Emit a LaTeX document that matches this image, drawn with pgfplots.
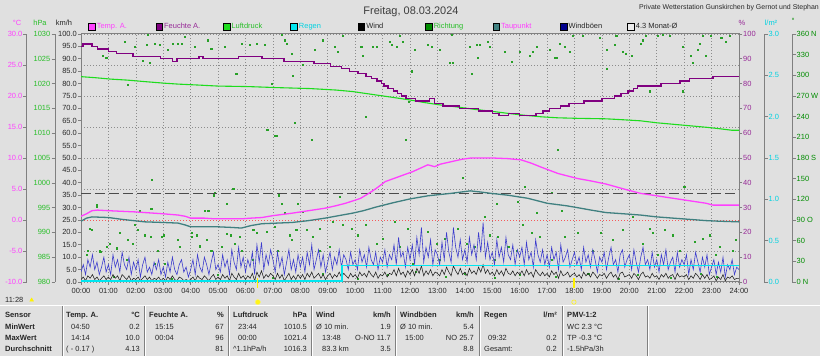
\documentclass[border=0pt]{standalone}
\usepackage{pgfplots}
\usepackage{pgfplotstable}
\pgfplotsset{compat=1.18}
\usepackage{fontspec}
\setmainfont{Liberation Sans}
\definecolor{bg}{RGB}{224,224,224}
\definecolor{tempc}{RGB}{255,64,255}
\definecolor{humc}{RGB}{128,0,128}
\definecolor{humtxt}{RGB}{150,40,150}
\definecolor{presc}{RGB}{30,220,30}
\definecolor{prestxt}{RGB}{40,190,40}
\definecolor{rainc}{RGB}{0,230,240}
\definecolor{raintxt}{RGB}{0,210,225}
\definecolor{windc}{RGB}{30,30,30}
\definecolor{dirc}{RGB}{40,160,40}
\definecolor{dirsq}{RGB}{0,140,0}
\definecolor{dewc}{RGB}{64,128,128}
\definecolor{gustc}{RGB}{60,60,205}
\definecolor{gustsq}{RGB}{0,0,140}
\definecolor{gridc}{RGB}{140,140,140}
\definecolor{axc}{RGB}{128,128,128}
\definecolor{avgc}{RGB}{75,75,75}
\definecolor{frostc}{RGB}{245,90,90}
\definecolor{txtc}{RGB}{40,40,40}
\newcommand\tf{\fontsize{7.5}{8.5}\selectfont}
\newcommand\hf{\fontsize{7.6}{8.5}\selectfont\bfseries}
\pgfplotsset{
  base/.style={scale only axis, width=658bp, height=248bp, xmin=0, xmax=24,
    at={(81bp,74bp)}, anchor=south west},
  narrow/.style={scale only axis, width=0.5bp, height=248bp, xmin=0, xmax=1,
    anchor=south west, axis x line=none, tick align=outside, major tick length=3.5bp,
    axis line style={axc,line width=1bp}, tick style={axc,line width=0.6bp},
    yticklabel style={font=\tf, inner sep=1bp}},
}
% wind gusts, 5-minute values from 00:00 to 24:00 (km/h)
\pgfplotstableread[header=false,row sep=\\]{
4\\7\\3\\9\\6\\11\\5\\8\\3\\6\\10\\4\\
7\\3\\11\\6\\9\\4\\12\\7\\5\\10\\3\\8\\
5\\9\\2\\7\\10\\4\\6\\3\\8\\5\\9\\3\\
6\\2\\8\\4\\10\\5\\3\\7\\9\\4\\6\\2\\
5\\9\\3\\11\\6\\4\\10\\7\\3\\8\\12\\5\\
7\\4\\11\\6\\9\\3\\13\\8\\5\\14\\6\\10\\
4\\9\\6\\12\\3\\15\\8\\16\\5\\11\\7\\13\\
9\\4\\12\\6\\10\\3\\8\\13\\5\\9\\4\\11\\
6\\10\\4\\12\\7\\15\\5\\9\\13\\6\\11\\4\\
8\\12\\5\\10\\7\\13\\6\\11\\9\\5\\12\\7\\
9\\5\\13\\8\\11\\6\\14\\9\\7\\12\\5\\10\\
8\\13\\6\\11\\9\\15\\7\\18\\10\\12\\6\\14\\
9\\15\\7\\18\\11\\22\\8\\14\\10\\17\\7\\13\\
11\\7\\16\\9\\20\\12\\8\\22\\14\\10\\17\\9\\
13\\8\\18\\11\\15\\9\\20\\12\\24\\10\\16\\9\\
12\\7\\17\\10\\14\\8\\18\\11\\9\\15\\7\\13\\
10\\14\\7\\16\\9\\12\\6\\17\\11\\8\\13\\7\\
11\\6\\14\\9\\12\\5\\15\\8\\10\\13\\6\\9\\
12\\7\\10\\5\\14\\8\\11\\6\\13\\9\\4\\10\\
8\\12\\5\\10\\14\\7\\9\\4\\11\\13\\6\\9\\
11\\5\\13\\8\\4\\10\\14\\7\\9\\5\\12\\6\\
9\\4\\11\\7\\13\\5\\8\\10\\4\\12\\6\\9\\
7\\11\\3\\9\\5\\12\\8\\4\\10\\6\\11\\3\\
6\\9\\3\\8\\4\\10\\2\\7\\5\\9\\3\\6\\
5\\
}\gusts
% mean wind, 5-minute values (km/h)
\pgfplotstableread[header=false,row sep=\\]{
1\\2\\0.5\\2.5\\1.5\\3\\1\\2\\0.5\\1.5\\2.5\\1\\
2\\1\\3\\1.5\\2.5\\0.5\\3\\2\\1\\2.5\\0.5\\1.5\\
1\\2\\0.5\\1.5\\2.5\\1\\2\\0.5\\1.5\\1\\2\\0.5\\
1.5\\0.5\\2\\1\\2.5\\1\\0.5\\2\\1.5\\0.5\\1\\0.5\\
1\\2\\0.5\\2.5\\1.5\\1\\2.5\\1.5\\0.5\\2\\3\\1\\
2\\1\\3\\1.5\\2.5\\0.5\\3.5\\2\\1\\3.5\\1.5\\2.5\\
1\\2.5\\1.5\\3.5\\0.5\\4\\2\\4.5\\1.5\\3\\2\\3.5\\
2.5\\1\\3.5\\1.5\\3\\0.5\\2\\3.5\\1\\2.5\\1\\3\\
1.5\\3\\1\\3.5\\2\\4\\1.5\\2.5\\3.5\\1.5\\3\\1\\
2.5\\3.5\\1.5\\3\\2\\4\\2\\3.5\\2.5\\1.5\\3.5\\2\\
3\\1.5\\4\\2.5\\3.5\\2\\4.5\\3\\2\\4\\1.5\\3\\
2.5\\4\\2\\3.5\\3\\5\\2.5\\5.5\\3\\4\\2\\4.5\\
3\\5\\2.5\\5.5\\3.5\\6.5\\2.5\\4.5\\3\\5\\2.5\\4\\
3.5\\2.5\\5\\3\\6\\4\\2.5\\6.5\\4.5\\3\\5.5\\3\\
4\\2.5\\5.5\\3.5\\4.5\\3\\6\\4\\7\\3.5\\5\\3\\
4\\2.5\\5\\3\\4.5\\2.5\\5.5\\3.5\\3\\4.5\\2.5\\4\\
3\\4.5\\2.5\\5\\3\\4\\2\\5\\3.5\\2.5\\4\\2.5\\
3.5\\2\\4.5\\3\\4\\1.5\\4.5\\2.5\\3\\4\\2\\3\\
3.5\\2\\3\\1.5\\4\\2.5\\3.5\\2\\4\\3\\1.5\\3\\
2.5\\3.5\\1.5\\3\\4\\2\\3\\1\\3.5\\4\\2\\2.5\\
3\\1.5\\3.5\\2.5\\1\\3\\4\\2\\2.5\\1.5\\3.5\\2\\
2.5\\1\\3\\2\\3.5\\1.5\\2.5\\3\\1\\3.5\\2\\2.5\\
2\\3\\1\\2.5\\1.5\\3.5\\2.5\\1\\3\\1.5\\3\\1\\
1.5\\2.5\\0.5\\2\\1\\3\\0.5\\2\\1.5\\2.5\\1\\1.5\\
1.5\\
}\wind
\begin{document}
\begin{tikzpicture}
\path[use as bounding box] (0,0) rectangle (820bp,356bp);
\fill[bg] (0,0) rectangle (820bp,356bp);

% grid
\begin{axis}[base, ymin=0, ymax=100, xtick={0,1,...,24}, ytick={0,12.5,...,100},
  xticklabels={}, yticklabels={}, grid=major,
  major grid style={gridc, line width=0.6bp, dash pattern=on 1bp off 2bp},
  axis line style={draw=none}, major tick length=0pt]
\addplot[draw=none] coordinates {(0,0)};
\end{axis}

% wind direction (degrees)
\begin{axis}[base, ymin=0, ymax=360, hide axis]
\addplot[only marks, mark=square*, mark size=0.55bp, dirc] coordinates {
(0.07,344)(0.8,329)(0.92,325)(1.59,349)(1.71,286)(1.96,342)(2.44,359)(2.38,344)(2.69,346)(2.87,344)(2.5,318)(2.26,321)(3.17,337)(3.35,346)(3.54,346)(3.78,356)(3.66,346)(4.15,342)(4.63,351)(4.75,339)(5.24,342)(5.85,346)(5.66,303)
(5.54,136)(4.87,129)(2.56,107)(0.56,112)(0.38,76)(1.41,71)(1.71,61)(1.9,56)(2.08,76)(2.32,68)(1.05,56)(0.68,46)(0.26,46)(2.93,66)(2.81,46)(3.05,27)(3.54,61)(4.03,66)(4.21,68)(4.51,104)(4.57,61)(4.75,46)(5.12,51)(5.3,70)(5.6,56)(5.85,46)(2.69,27)
(0.33,78)(0.58,110)(0.2,40)(0.7,44)(0.95,51)(1.3,49)(1.67,32)(1.97,83)(2.15,104)(2.58,148)(2.55,66)(3.0,68)(3.6,51)(4.04,71)(4.34,52)(4.64,104)(4.83,126)(5.3,114)(5.55,136)(5.45,68)(5.8,66)(6.28,76)(6.78,221)(7.08,213)(7.2,126)(7.44,100)(7.6,68)(7.8,231)(7.9,114)
(6.15,344)(6.4,346)(6.7,344)(6.94,288)(7.31,359)(7.43,351)(7.49,346)(7.67,332)(7.73,300)(8.1,315)(8.52,337)(8.83,351)(9.25,342)(9.56,357)(9.37,334)(10.22,342)(10.28,329)(10.65,342)(10.77,342)(11.26,349)(11.32,344)(11.5,342)(11.62,357)(11.74,349)(11.95,262)(11.83,206)(10.4,240)(7.13,213)(6.82,221)(7.79,231)(8.4,206)
(6.76,73)(6.4,71)(7.06,80)(7.31,114)(7.67,61)(7.85,76)(8.22,76)(8.1,102)(8.46,66)(8.7,78)(9.19,88)(9.43,124)(9.56,83)(9.86,78)(10.1,68)(10.4,83)(10.77,56)(11.0,63)(11.44,88)(11.62,51)(11.92,78)(6.27,32)(7.19,46)(9.07,51)(8.7,46)
(12.17,337)(12.05,306)(12.66,344)(12.78,342)(13.08,337)(13.51,359)(13.45,318)(13.57,318)(14.18,342)(14.42,344)(14.54,344)(14.85,349)(14.91,342)(14.48,325)(14.24,303)(15.45,334)(15.7,320)(16.0,334)(16.36,329)(16.61,342)(16.49,334)(17.1,337)(17.28,325)(17.34,325)(17.46,346)(17.64,342)(17.94,357)(17.82,334)(17.4,192)(15.94,117)(15.15,114)(16.18,138)(16.61,100)(17.16,129)(17.52,104)(13.93,151)(14.72,95)
(12.66,73)(12.96,56)(13.27,63)(13.75,78)(14.06,56)(14.36,51)(14.91,68)(15.21,66)(15.58,51)(15.88,46)(16.12,83)(16.43,71)(16.73,66)(17.16,32)(17.64,66)(12.11,27)(13.08,32)(15.09,32)
(18.91,354)(19.16,337)(19.52,357)(19.46,344)(19.76,334)(19.88,332)(20.07,329)(20.49,351)(20.43,346)(20.61,357)(21.22,359)(21.04,357)(21.46,357)(21.95,342)(22.25,329)(22.31,318)(22.5,337)(22.56,346)(22.68,357)(22.8,329)(22.98,357)(23.35,354)(23.53,349)(23.65,357)(19.16,310)(20.73,277)(21.95,277)(18.3,357)
(22.0,138)(20.13,95)(20.73,78)(18.97,71)(19.4,61)(19.76,76)(20.49,56)(20.86,71)(21.28,76)(21.59,68)(21.83,46)(22.37,59)(22.68,63)(22.92,68)(23.29,51)(23.77,46)(23.89,61)(18.12,71)(18.67,46)(21.04,39)(23.16,39)
(10.1,5)(11.2,10)(12.2,15)(13.3,8)(14.0,12)(15.1,6)(16.0,10)(17.3,8)(18.5,12)(19.6,5)(20.3,10)(21.5,6)(22.6,12)(23.2,8)(1.2,8)(3.3,5)(5.0,10)(7.0,6)(8.8,12)
};
\end{axis}

% frame, km/h: wind and gusts, legend
\begin{axis}[base, ymin=0, ymax=100,
  axis line style={axc, line width=1bp}, tick pos=left, tick align=outside,
  major tick length=3bp, tick style={axc, line width=0.6bp},
  ticklabel style={font=\tf, text=txtc},
  yticklabel style={inner sep=1bp},
  xtick={0,1,...,24},
  xticklabels={00:00,01:00,02:00,03:00,04:00,05:00,06:00,07:00,08:00,09:00,10:00,11:00,12:00,13:00,14:00,15:00,16:00,17:00,18:00,19:00,20:00,21:00,22:00,23:00,24:00},
  ytick={0,5,...,100},
  yticklabels={0.0,5.0,10.0,15.0,20.0,25.0,30.0,35.0,40.0,45.0,50.0,55.0,60.0,65.0,70.0,75.0,80.0,85.0,90.0,95.0,100.0},
  legend columns=9,
  legend style={at={(0.0106,1.029)}, anchor=west, draw=none, fill=none, inner sep=0pt,
    font=\tf, cells={anchor=west}, nodes={inner sep=1.5bp},
    /tikz/every even column/.append style={column sep=0pt}},
]
\addplot[forget plot, gustc, line width=0.6bp] table[x expr=\coordindex/12, y index=0] {\gusts};
\addplot[forget plot, windc, line width=0.55bp] table[x expr=\coordindex/12, y index=0] {\wind};
\addlegendimage{legend image code/.code={\draw[fill=tempc,draw=black,line width=0.5bp] (0bp,-3.3bp) rectangle (6.6bp,3.3bp);}}
\addlegendentry{\makebox[57.3bp][l]{\textcolor{tempc}{Temp. A.}}}
\addlegendimage{legend image code/.code={\draw[fill=humc,draw=black,line width=0.5bp] (0bp,-3.3bp) rectangle (6.6bp,3.3bp);}}
\addlegendentry{\makebox[57.3bp][l]{\textcolor{humtxt}{Feuchte A.}}}
\addlegendimage{legend image code/.code={\draw[fill=presc,draw=black,line width=0.5bp] (0bp,-3.3bp) rectangle (6.6bp,3.3bp);}}
\addlegendentry{\makebox[57.3bp][l]{\textcolor{prestxt}{Luftdruck}}}
\addlegendimage{legend image code/.code={\draw[fill=rainc,draw=black,line width=0.5bp] (0bp,-3.3bp) rectangle (6.6bp,3.3bp);}}
\addlegendentry{\makebox[57.3bp][l]{\textcolor{raintxt}{Regen}}}
\addlegendimage{legend image code/.code={\draw[fill=black,draw=black,line width=0.5bp] (0bp,-3.3bp) rectangle (6.6bp,3.3bp);}}
\addlegendentry{\makebox[57.3bp][l]{\textcolor{txtc}{Wind}}}
\addlegendimage{legend image code/.code={\draw[fill=dirsq,draw=black,line width=0.5bp] (0bp,-3.3bp) rectangle (6.6bp,3.3bp);}}
\addlegendentry{\makebox[57.3bp][l]{\textcolor{prestxt}{Richtung}}}
\addlegendimage{legend image code/.code={\draw[fill=dewc,draw=black,line width=0.5bp] (0bp,-3.3bp) rectangle (6.6bp,3.3bp);}}
\addlegendentry{\makebox[57.3bp][l]{\textcolor{tempc}{Taupunkt}}}
\addlegendimage{legend image code/.code={\draw[fill=gustsq,draw=black,line width=0.5bp] (0bp,-3.3bp) rectangle (6.6bp,3.3bp);}}
\addlegendentry{\makebox[57.3bp][l]{\textcolor{txtc}{Windböen}}}
\addlegendimage{legend image code/.code={\draw[fill=white!85!gray,draw=black,line width=0.5bp] (0bp,-3.3bp) rectangle (6.6bp,3.3bp);}}
\addlegendentry{\makebox[57.3bp][l]{\textcolor{txtc}{4.3 Monat-Ø}}}
\end{axis}

% pressure (hPa)
\begin{axis}[base, ymin=980, ymax=1030, hide axis]
\addplot[presc, line width=1.1bp] coordinates {
(0,1021.4)(0.5,1021.2)(1.1,1020.9)(1.7,1020.7)(2.33,1020.4)(3.0,1020.1)(3.54,1019.9)(4.3,1019.7)(5.0,1019.5)(6.1,1019.4)(7.1,1019.2)(8.35,1019.0)(9.3,1018.7)(9.9,1018.4)(10.4,1018.0)(10.77,1017.7)(11.4,1017.2)(12.0,1016.7)(12.5,1016.2)(13.1,1015.7)(13.7,1015.3)(14.37,1014.8)(15.0,1014.4)(15.57,1014.0)(16.2,1013.6)(16.8,1013.3)(17.4,1013.1)(18.1,1013.0)(19.15,1012.9)(19.8,1012.7)(20.4,1012.5)(21.0,1012.1)(21.6,1011.8)(22.2,1011.5)(22.8,1011.2)(23.3,1010.9)(23.73,1010.6)(24,1010.6)};
\end{axis}

% humidity (%), right scale
\begin{axis}[base, ymin=0, ymax=100, axis x line=none, axis y line*=right,
  axis line style={axc, line width=1bp}, tick align=outside, major tick length=3bp,
  tick style={axc, line width=0.6bp},
  ytick={0,10,...,100}, yticklabels={0,10,20,30,40,50,60,70,80,90,100},
  yticklabel style={font=\tf, text=humtxt, inner sep=1bp}]
\addplot[humc, const plot, line width=1.3bp] coordinates {
(0,95)(0.07,96)(0.4,95)(0.6,94)(1.0,93)(1.3,92)(1.9,91)(2.9,90)(3.35,89)(3.5,90)(4.3,91)(4.45,90)(5.75,91)(6.6,90)(7.4,89)(8.5,88)(9.1,87)(9.5,86)(9.8,85)(10.1,84)(10.4,83)(10.6,82)(10.8,81)(10.95,80)(11.05,79)(11.2,78)(11.4,77)(11.55,76)(11.7,75)(11.85,74)(12.2,73)(12.7,74)(12.9,72)(13.2,71)(13.8,70)(14.5,69)(15.0,68)(15.25,67)(15.6,68)(16.0,67)(16.6,68)(16.85,69)(17.1,70)(17.5,71)(17.8,72)(18.35,73)(19.0,74)(19.45,75)(19.7,76)(19.95,77)(20.15,78)(20.3,79)(21.15,80)(21.85,81)(22.2,82)(23.05,83)(24,83)};
\end{axis}

% temperatures (deg C)
\begin{axis}[base, ymin=-10, ymax=30, hide axis]
\addplot[frostc, line width=0.9bp, dash pattern=on 1.2bp off 1.8bp] coordinates {(0,0)(24,0)};
\addplot[avgc, line width=1.3bp, dash pattern=on 10bp off 4bp] coordinates {(0,4.3)(24,4.3)};
\addplot[dewc, line width=1.3bp] coordinates {
(0,-0.2)(0.2,0.3)(0.4,0.5)(1.0,0.4)(1.5,0.1)(2.33,-0.3)(3.0,-0.4)(3.54,-0.5)(3.8,-0.8)(4.0,-1.1)(5.0,-1.1)(5.5,-1.2)(5.85,-1.3)(6.2,-0.9)(6.6,-0.6)(7.7,-0.4)(8.3,-0.1)(8.9,0.3)(9.4,0.7)(9.9,1.1)(10.3,1.5)(10.77,2.1)(11.4,2.8)(12.0,3.4)(12.65,3.9)(13.5,4.3)(14.2,4.7)(14.6,4.5)(14.95,4.3)(15.57,4.0)(16.3,3.5)(17.0,2.7)(17.7,2.3)(18.1,2.0)(18.6,1.6)(19.15,1.2)(19.8,1.0)(20.4,0.8)(21.0,0.5)(21.6,0.3)(22.2,0.1)(22.8,-0.1)(23.3,-0.2)(24,-0.3)};
\addplot[tempc, line width=1.3bp] coordinates {
(0,0.6)(0.2,1.0)(0.4,1.5)(0.6,1.6)(1.0,1.5)(1.5,1.4)(2.0,1.3)(2.33,1.2)(3.0,1.0)(3.54,0.8)(3.8,0.6)(4.0,0.3)(4.5,0.3)(4.83,0.2)(5.5,0.2)(5.9,0.2)(6.2,0.3)(6.6,0.4)(7.0,0.7)(7.7,1.1)(8.3,1.5)(8.9,1.9)(9.3,2.3)(9.65,2.7)(10.0,3.2)(10.2,3.5)(10.5,4.3)(10.77,5.1)(11.1,6.2)(11.6,7.0)(12.1,7.8)(12.4,8.4)(12.65,8.9)(12.9,8.6)(13.1,9.0)(13.5,9.4)(13.9,9.8)(14.23,10.0)(15.0,10.0)(15.57,9.9)(16.05,9.7)(16.4,9.2)(16.8,8.5)(17.4,7.5)(18.1,6.7)(18.6,6.3)(19.15,5.8)(19.8,5.0)(20.4,4.3)(21.0,3.9)(21.6,3.5)(22.2,3.1)(22.8,2.7)(23.05,2.4)(23.5,2.4)(24,2.4)};
\end{axis}

% rain (l/m2), drawn on top
\begin{axis}[base, ymin=0, ymax=3, hide axis]
\addplot[rainc, line width=1.7bp] coordinates {(0,0.01)(9.53,0.01)(9.53,0.2)(16,0.2)(24,0.2)};
\end{axis}

% sunrise / sunset markers
\begin{axis}[base, ymin=0, ymax=100, hide axis, clip=false]
\addplot[yellow, line width=1.2bp] coordinates {(6.45,1.5)(6.45,-2.5)};
\addplot[yellow, line width=1.2bp] coordinates {(17.98,1.5)(17.98,-2.5)};
\addplot[only marks, mark=*, mark size=2.6bp, mark options={fill=yellow!90!white, draw=yellow!60!white}] coordinates {(6.45,-8.1)};
\addplot[only marks, mark=o, mark size=2.2bp, mark options={draw=yellow!90!white, line width=0.6bp}] coordinates {(17.98,-8.1)};
\addplot[only marks, mark=triangle*, mark size=2.2bp, mark options={fill=yellow, draw=yellow}] coordinates {(-1.8,-7.3)};
\end{axis}

% left scales
\begin{axis}[narrow, at={(27bp,74bp)}, ymin=-10, ymax=30, axis y line*=left,
  ytick={-10,-5,...,30}, yticklabels={-10.0,-5.0,0.0,5.0,10.0,15.0,20.0,25.0,30.0},
  yticklabel style={text=tempc}]
\addplot[draw=none] coordinates {(0,0)};
\end{axis}
\begin{axis}[narrow, at={(55bp,74bp)}, ymin=980, ymax=1030, axis y line*=left,
  ytick={980,985,...,1030}, yticklabels={980,985,990,995,1000,1005,1010,1015,1020,1025,1030},
  yticklabel style={text=prestxt}]
\addplot[draw=none] coordinates {(0,1000)};
\end{axis}
% right scales
\begin{axis}[narrow, at={(763.5bp,74bp)}, ymin=0, ymax=3, axis y line*=right,
  ytick={0,0.5,...,3}, yticklabels={0.0,0.5,1.0,1.5,2.0,2.5,3.0},
  yticklabel style={text=raintxt}]
\addplot[draw=none] coordinates {(0,1)};
\end{axis}
\begin{axis}[narrow, at={(791.5bp,74bp)}, ymin=0, ymax=360, axis y line*=right,
  ytick={0,30,...,360}, yticklabels={0 N,30,60,90 O,120,150,180 S,210,240,270 W,300,330,360 N},
  yticklabel style={text=dirsq}]
\addplot[draw=none] coordinates {(0,100)};
\end{axis}

% titles and unit labels
\node[font=\fontsize{11}{12}\selectfont, text=txtc!90!white] at (411bp,344.5bp) {Freitag, 08.03.2024};
\node[font=\fontsize{7}{8}\selectfont, text=txtc, anchor=east, inner sep=0pt] at (819bp,348bp) {Private Wetterstation Gunskirchen by Gernot und Stephan};
\node[font=\tf, text=tempc] at (17bp,333bp) {°C};
\node[font=\tf, text=prestxt] at (40bp,333bp) {hPa};
\node[font=\tf, text=txtc] at (64bp,333bp) {km/h};
\node[font=\tf, text=humtxt] at (742bp,333bp) {\%};
\node[font=\tf, text=raintxt] at (771bp,333bp) {l/m²};
\node[font=\tf, text=dirsq] at (793bp,335bp) {°};
\node[font=\tf, text=txtc, anchor=west, inner sep=0pt] at (5bp,56bp) {11:28};

% statistics table
\draw[axc, line width=0.8bp] (0,51bp) -- (820bp,51bp);
\draw[white, line width=0.6bp] (0,50.2bp) -- (820bp,50.2bp);
\foreach \x in {62,144,228,311,395,479,562,647} {
  \draw[axc, line width=0.8bp] (\x bp,0) -- (\x bp,50bp);
  \draw[white, line width=0.6bp] (\x bp+0.8bp,0) -- (\x bp+0.8bp,50bp);
}
\begin{scope}[every node/.style={inner sep=0pt, text height=5.6bp, text depth=1.6bp, text=black!85}]
\node[anchor=west, font=\hf] at (5bp,40.3bp) {Sensor};
\node[anchor=west, font=\hf] at (5bp,28.7bp) {MinWert};
\node[anchor=west, font=\hf] at (5bp,17.7bp) {MaxWert};
\node[anchor=west, font=\hf] at (5bp,7bp) {Durchschnitt};
% Temp
\node[anchor=west, font=\hf] at (66bp,40.3bp) {Temp. A.};
\node[anchor=east, font=\hf] at (140bp,40.3bp) {°C};
\node[anchor=west, font=\tf] at (71bp,28.7bp) {04:50};
\node[anchor=east, font=\tf] at (140bp,28.7bp) {0.2};
\node[anchor=west, font=\tf] at (71bp,17.7bp) {14:14};
\node[anchor=east, font=\tf] at (140bp,17.7bp) {10.0};
\node[anchor=west, font=\tf] at (66bp,7bp) {( - 0.17 )};
\node[anchor=east, font=\tf] at (140bp,7bp) {4.13};
% Feuchte
\node[anchor=west, font=\hf] at (149bp,40.3bp) {Feuchte A.};
\node[anchor=east, font=\hf] at (224bp,40.3bp) {\%};
\node[anchor=west, font=\tf] at (155bp,28.7bp) {15:15};
\node[anchor=east, font=\tf] at (224bp,28.7bp) {67};
\node[anchor=west, font=\tf] at (155bp,17.7bp) {00:04};
\node[anchor=east, font=\tf] at (224bp,17.7bp) {96};
\node[anchor=east, font=\tf] at (224bp,7bp) {81};
% Luftdruck
\node[anchor=west, font=\hf] at (233bp,40.3bp) {Luftdruck};
\node[anchor=east, font=\hf] at (307bp,40.3bp) {hPa};
\node[anchor=west, font=\tf] at (238bp,28.7bp) {23:44};
\node[anchor=east, font=\tf] at (307bp,28.7bp) {1010.5};
\node[anchor=west, font=\tf] at (238bp,17.7bp) {00:00};
\node[anchor=east, font=\tf] at (307bp,17.7bp) {1021.4};
\node[anchor=west, font=\tf] at (233bp,7bp) {\textasciicircum 1.1hPa/h};
\node[anchor=east, font=\tf] at (307bp,7bp) {1016.3};
% Wind
\node[anchor=west, font=\hf] at (316bp,40.3bp) {Wind};
\node[anchor=east, font=\hf] at (391bp,40.3bp) {km/h};
\node[anchor=west, font=\tf] at (316bp,28.7bp) {Ø 10 min.};
\node[anchor=east, font=\tf] at (391bp,28.7bp) {1.9};
\node[anchor=west, font=\tf] at (322bp,17.7bp) {13:48};
\node[anchor=east, font=\tf] at (391bp,17.7bp) {O-NO 11.7};
\node[anchor=west, font=\tf] at (322bp,7bp) {83.3 km};
\node[anchor=east, font=\tf] at (391bp,7bp) {3.5};
% Windboeen
\node[anchor=west, font=\hf] at (400bp,40.3bp) {Windböen};
\node[anchor=east, font=\hf] at (474bp,40.3bp) {km/h};
\node[anchor=west, font=\tf] at (400bp,28.7bp) {Ø 10 min.};
\node[anchor=east, font=\tf] at (474bp,28.7bp) {5.4};
\node[anchor=west, font=\tf] at (405bp,17.7bp) {15:00};
\node[anchor=east, font=\tf] at (474bp,17.7bp) {NO 25.7};
\node[anchor=east, font=\tf] at (474bp,7bp) {8.8};
% Regen
\node[anchor=west, font=\hf] at (484bp,40.3bp) {Regen};
\node[anchor=east, font=\hf] at (557bp,40.3bp) {l/m²};
\node[anchor=west, font=\tf] at (488bp,17.7bp) {09:32};
\node[anchor=east, font=\tf] at (557bp,17.7bp) {0.2};
\node[anchor=west, font=\tf] at (484bp,7bp) {Gesamt:};
\node[anchor=east, font=\tf] at (557bp,7bp) {0.2};
% PMV
\node[anchor=west, font=\hf] at (567bp,40.3bp) {PMV-1:2};
\node[anchor=west, font=\tf] at (567bp,28.7bp) {WC 2.3 °C};
\node[anchor=west, font=\tf] at (567bp,17.7bp) {TP -0.3 °C};
\node[anchor=west, font=\tf] at (567bp,7bp) {-1.5hPa/3h};
\end{scope}
\end{tikzpicture}
\end{document}
